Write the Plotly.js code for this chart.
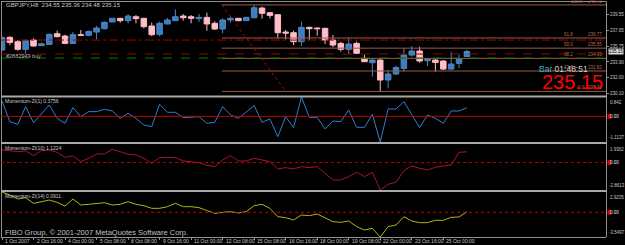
<!DOCTYPE html>
<html><head><meta charset="utf-8">
<script src="https://cdn.plot.ly/plotly-3.0.1.min.js"></script>
<style>html,body{margin:0;padding:0;background:#000;}#c{width:625px;height:245px;}</style>
</head><body><div id="c"></div>
<script>
// ---- data ----
const symbol = "GBPJPY,H8";
const opens  = [235.33,236.84,236.32,235.41,236.52,235.85,236.00,237.28,237.00,236.12,237.16,237.08,237.48,237.88,238.68,239.12,238.84,239.31,239.12,238.20,237.20,238.44,238.84,239.39,239.31,239.08,239.23,238.52,237.84,238.92,239.12,238.84,239.19,240.35,239.79,239.55,237.48,237.40,236.32,238.04,237.96,237.92,236.52,236.12,235.41,236.12,234.33,233.81,234.13,231.74,232.46,233.13,234.73,235.21,234.05,234.13,234.01,233.05,233.73,234.55];
const highs  = [236.92,237.00,236.52,236.60,236.72,236.20,237.32,237.64,237.16,237.48,237.72,237.64,238.20,238.76,239.16,239.16,239.63,239.51,239.12,238.60,238.72,239.16,240.19,239.63,239.51,239.63,239.79,238.76,239.12,239.31,239.16,239.31,240.72,240.51,239.87,239.63,237.72,237.64,238.72,238.12,238.00,238.00,237.12,236.32,236.84,236.32,234.73,234.21,234.21,232.93,233.41,235.53,235.81,235.73,234.33,234.21,234.13,235.13,234.73,235.36];
const lows   = [235.25,235.92,235.25,234.93,235.73,235.81,235.92,236.84,236.04,236.04,237.00,237.00,236.60,237.80,238.68,238.60,238.52,238.52,237.92,237.00,237.00,238.44,238.84,238.84,238.52,238.68,237.64,237.72,237.32,238.60,238.76,238.80,239.12,239.08,239.12,236.72,236.60,235.92,235.81,236.52,237.04,236.04,235.65,235.13,234.85,234.85,233.89,232.14,230.38,230.74,232.34,232.73,234.53,233.81,233.41,232.73,232.93,232.93,233.13,234.48];
const closes = [236.84,236.24,235.41,236.44,235.81,236.08,237.20,236.92,236.12,237.16,237.08,237.56,237.96,238.64,239.12,238.84,239.39,239.08,238.12,237.16,238.52,238.92,239.31,239.19,239.12,239.23,238.44,237.84,238.92,239.12,238.84,239.23,240.39,239.71,239.47,237.40,237.36,236.32,238.04,237.88,237.88,236.52,235.92,235.41,236.04,234.93,233.93,234.13,231.74,232.46,233.25,234.73,235.21,234.01,234.21,233.85,233.05,233.65,234.25,235.15];

const mom1  = [0.670,-0.229,-0.345,0.423,-0.272,0.090,0.496,-0.084,-0.301,0.380,-0.012,0.206,0.206,0.307,0.235,-0.084,0.133,-0.084,-0.374,-0.446,0.525,0.177,0.177,-0.055,-0.026,-0.012,-0.301,-0.258,0.423,0.061,-0.084,0.177,0.467,-0.258,-0.113,-0.881,-0.012,-0.490,0.842,-0.041,-0.041,-0.548,-0.200,-0.229,0.278,-0.475,-0.475,0.090,-1.1137,0.322,0.322,0.640,0.090,-0.490,0.061,-0.084,-0.301,0.235,0.235,0.3756];
const mom10 = [1.314,1.210,1.140,1.210,0.723,1.245,1.314,1.071,0.549,0.688,0.097,0.445,0.897,0.897,1.383,1.140,0.862,0.793,0.445,-0.077,0.514,0.549,0.514,0.167,0.097,0.000,-0.280,-0.424,0.271,0.723,0.167,0.167,0.445,0.271,0.097,-0.667,-0.528,-0.667,-0.424,-0.528,-0.424,-1.119,-1.814,-1.814,-1.466,-1.015,-1.466,-1.015,-2.8613,-2.266,-2.058,-0.841,-0.354,-0.597,-0.771,-0.493,-0.354,-0.250,1.071,1.1224];
const mom14 = [2.9235,2.489,1.914,2.106,1.290,1.530,1.770,1.434,0.911,1.914,1.055,1.151,1.290,1.386,1.055,1.151,1.530,1.151,0.959,0.575,0.575,0.815,1.290,0.815,0.815,0.671,0.260,-0.144,0.000,0.096,-0.096,0.096,0.959,1.151,0.575,-0.624,-0.767,-1.103,-0.384,-0.480,-0.240,-0.767,-1.343,-1.439,-1.247,-2.062,-2.542,-2.302,-3.5497,-2.062,-1.822,-0.624,-1.247,-1.487,-1.487,-1.151,-1.151,-0.719,-0.671,0.0911];

const tickIdx  = [0,4,8,12,16,20,24,28,32,36,40,44,48,52,56];
const tickText = ["1 Oct 2007","2 Oct 16:00","4 Oct 00:00","5 Oct 08:00","8 Oct 08:00","9 Oct 16:00","11 Oct 00:00","12 Oct 08:00","15 Oct 08:00","16 Oct 16:00","18 Oct 00:00","19 Oct 08:00","22 Oct 00:00","23 Oct 16:00","25 Oct 00:00"];
const priceTicks = [239.55,237.65,235.75,233.90,232.00,230.10];
const priceTickText = ["239.55","237.65","235.75","233.90","232.00","230.10"];

const fibHigh = 240.72, fibLow = 230.38;
const fibLevels = [100.0,61.8,50.0,38.2,23.6,0.0];
const fibAnchorA = 27.9, fibAnchorB = 36.0;
const takeProfit = 236.52, stopLoss = 234.85, openPrice = 234.37;
const orderLabel = "#2882949 buy";
const mom1Range  = [-1.1137, 0.842];
const mom10Range = [-2.8613, 1.9362];
const mom14Range = [-3.5497, 2.9235];
const barTimer = "01:48:51";

// ---- layout helpers ----
const n = closes.length;
const xs = Array.from({length:n},(_,i)=>i);
const PX = x => (x-1)/605;
const PY = y => (237-y)/235;
const xRange = [-0.127, 76.65];
const FONT = "Liberation Sans, Arial, sans-serif";
const TXT = "#c8c8c8";

const traces = [
  {type:'candlestick', x:xs, open:opens, high:highs, low:lows, close:closes, xaxis:'x', yaxis:'y',
   increasing:{line:{color:'#4a86c4',width:1}, fillcolor:'#3e7dbd'},
   decreasing:{line:{color:'#ffb8c4',width:1}, fillcolor:'#ffc0cb'},
   whiskerwidth:0, hoverinfo:'skip'},
  {type:'scatter', mode:'lines', x:xs, y:mom1, xaxis:'x', yaxis:'y2', line:{color:'#2f7fd0',width:1}, hoverinfo:'skip'},
  {type:'scatter', mode:'lines', x:xs, y:mom10, xaxis:'x', yaxis:'y3', line:{color:'#a8142c',width:1}, hoverinfo:'skip'},
  {type:'scatter', mode:'lines', x:xs, y:mom14, xaxis:'x', yaxis:'y4', line:{color:'#b4b414',width:1}, hoverinfo:'skip'}
];

const panels = [
  {ax:'y2', top:97, bot:142, r:mom1Range, dash:'solid'},
  {ax:'y3', top:144, bot:190, r:mom10Range, dash:'dot'},
  {ax:'y4', top:192, bot:237, r:mom14Range, dash:'dot'}
];

const shapes = [];
const ann = [];
const gray = '#909090';
shapes.push({type:'line', xref:'paper', yref:'paper', x0:0, x1:1, y0:PY(1.5), y1:PY(1.5), line:{color:gray,width:1}});
shapes.push({type:'line', xref:'paper', yref:'paper', x0:PX(1.5), x1:PX(1.5), y0:0, y1:PY(1.5), line:{color:gray,width:1}});
shapes.push({type:'line', xref:'paper', yref:'paper', x0:PX(606.5), x1:PX(606.5), y0:0, y1:PY(1.5), line:{color:gray,width:1}});
[96.5,143,191].forEach(y=>shapes.push({type:'line', xref:'paper', yref:'paper', x0:0, x1:PX(606.5), y0:PY(y), y1:PY(y), line:{color:'#a8a8a8',width:2}}));

// fibonacci
const fibColor = '#9c5a44';
const fibText = '#b86a50';
fibLevels.forEach(l=>{
  const p = fibLow + (fibHigh-fibLow)*l/100;
  shapes.push({type:'line', xref:'x', yref:'y', x0:fibAnchorA, x1:xRange[1], y0:p, y1:p, line:{color:fibColor,width:1}});
  ann.push({xref:'paper', yref:'y', x:PX(l===100?569:(l===0?576:562)), y:p, xanchor:'left', yanchor:'bottom', yshift:-1, text:l.toFixed(1), showarrow:false, font:{family:FONT,size:4.5,color:fibText}});
  ann.push({xref:'paper', yref:'y', x:PX(604), y:p, xanchor:'right', yanchor:'bottom', yshift:-1, text:p.toFixed(2), showarrow:false, font:{family:FONT,size:4.5,color:fibText}});
});
shapes.push({type:'line', xref:'x', yref:'y', x0:fibAnchorA, x1:fibAnchorB, y0:fibHigh, y1:fibLow, line:{color:'#a01010',width:1,dash:'dot'}});

// order lines
shapes.push({type:'line', xref:'paper', yref:'y', x0:0, x1:1, y0:takeProfit, y1:takeProfit, line:{color:'#a00000',width:1,dash:'dashdot'}});
shapes.push({type:'line', xref:'paper', yref:'y', x0:0, x1:1, y0:stopLoss, y1:stopLoss, line:{color:'#a00000',width:1,dash:'dash'}});
shapes.push({type:'line', xref:'paper', yref:'y', x0:0, x1:1, y0:openPrice, y1:openPrice, line:{color:'#008000',width:1,dash:'dash'}});

// zero lines and indicator labels
const vals = [mom1, mom10, mom14];
const names = ["Momentum-Zi(1)","Momentum-Zi(10)","Momentum-Zi(14)"];
panels.forEach((pn,k)=>{
  shapes.push({type:'line', xref:'paper', yref:pn.ax, x0:0, x1:1, y0:0, y1:0, line:{color:'#c00000',width:1,dash:pn.dash}});
  const zpx = pn.top + (pn.r[1]/(pn.r[1]-pn.r[0]))*(pn.bot-pn.top);
  shapes.push({type:'rect', xref:'paper', yref:'paper', x0:PX(607.5), x1:PX(611), y0:PY(zpx+2.5), y1:PY(zpx-2.5), fillcolor:'#e00000', line:{width:0}});
  ann.push({xref:'paper', yref:pn.ax, x:PX(607.5), y:0, xanchor:'left', yanchor:'middle', text:'0.00', showarrow:false, font:{family:FONT,size:4.5,color:'#e8e8e8'}});
  ann.push({xref:'paper', yref:'paper', x:PX(607.5), y:PY(pn.top+0.5), xanchor:'left', yanchor:'top', text:String(pn.r[1]), showarrow:false, font:{family:FONT,size:4.5,color:TXT}});
  ann.push({xref:'paper', yref:'paper', x:PX(607), y:PY(pn.bot-0.5), xanchor:'left', yanchor:'bottom', text:String(pn.r[0]), showarrow:false, font:{family:FONT,size:4.5,color:TXT}});
  const last = vals[k][vals[k].length-1];
  ann.push({xref:'paper', yref:'paper', x:PX(3), y:PY(pn.top+3.5), xanchor:'left', yanchor:'middle', text:names[k]+' '+last.toFixed(4), showarrow:false, font:{family:FONT,size:5,color:TXT}});
});

// x-axis labels (MetaTrader style: text starts right of the tick)
tickIdx.forEach((ix,k)=>{
  ann.push({xref:'x', yref:'paper', x:ix, y:PY(241), xanchor:'left', yanchor:'middle', xshift:1, text:tickText[k], showarrow:false, font:{family:FONT,size:5,color:TXT}});
});

// header & misc text
const L = n-1;
ann.push({xref:'paper', yref:'paper', x:PX(3.5), y:PY(5), xanchor:'left', yanchor:'middle', text:symbol+'  '+opens[L].toFixed(2)+' '+highs[L].toFixed(2)+' '+lows[L].toFixed(2)+' '+closes[L].toFixed(2), showarrow:false, font:{family:FONT,size:6,color:TXT}});
ann.push({xref:'paper', yref:'y', x:PX(4), y:(stopLoss+openPrice)/2, xanchor:'left', yanchor:'middle', text:orderLabel, showarrow:false, font:{family:FONT,size:5.5,color:'#b0b0b0'}});
ann.push({xref:'paper', yref:'paper', x:PX(3), y:PY(232.5), xanchor:'left', yanchor:'middle', text:'FIBO Group, © 2001-2007 MetaQuotes Software Corp.', showarrow:false, font:{family:FONT,size:7.5,color:'#c0c0c0'}});
ann.push({xref:'paper', yref:'paper', x:PX(537), y:PY(68.5), xanchor:'left', yanchor:'middle', text:"<span style='color:#3cb4c4'>Bar</span> "+barTimer, showarrow:false, font:{family:FONT,size:8.5,color:'#d4d4d4'}});
ann.push({xref:'paper', yref:'paper', x:PX(605), y:PY(81.5), xanchor:'right', yanchor:'middle', text:closes[L].toFixed(2), showarrow:false, font:{family:FONT,size:20,color:'#ff0000'}});
ann.push({xref:'paper', yref:'y', x:PX(607.5), y:closes[L], xanchor:'left', yanchor:'middle', text:closes[L].toFixed(2), bgcolor:'#d8d8d8', borderpad:0, showarrow:false, font:{family:FONT,size:4.5,color:'#000'}});

const layout = {
  width:625, height:245, margin:{l:1,r:19,t:2,b:8},
  paper_bgcolor:'#000', plot_bgcolor:'#000', showlegend:false,
  boxgap:0, boxgroupgap:0.3,
  xaxis:{range:xRange, anchor:'y4', tickvals:tickIdx, showticklabels:false, ticks:'outside', ticklen:2, tickcolor:gray,
         showgrid:false, zeroline:false, showline:true, linecolor:gray, linewidth:1, rangeslider:{visible:false}, fixedrange:true},
  yaxis:{domain:[0.600,1], range:[229.83,241.07], side:'right', anchor:'x', tickvals:priceTicks, ticktext:priceTickText,
         ticks:'outside', ticklen:2, tickcolor:gray, tickfont:{family:FONT,size:4.5,color:TXT}, showgrid:false, zeroline:false},
  yaxis2:{domain:[PY(142),PY(97)], range:mom1Range, anchor:'x', showticklabels:false, showgrid:false, zeroline:false},
  yaxis3:{domain:[PY(190),PY(144)], range:mom10Range, anchor:'x', showticklabels:false, showgrid:false, zeroline:false},
  yaxis4:{domain:[0,PY(192)], range:mom14Range, anchor:'x', showticklabels:false, showgrid:false, zeroline:false},
  shapes:shapes, annotations:ann
};
Plotly.newPlot('c', traces, layout, {staticPlot:true, displayModeBar:false});
</script></body></html>
